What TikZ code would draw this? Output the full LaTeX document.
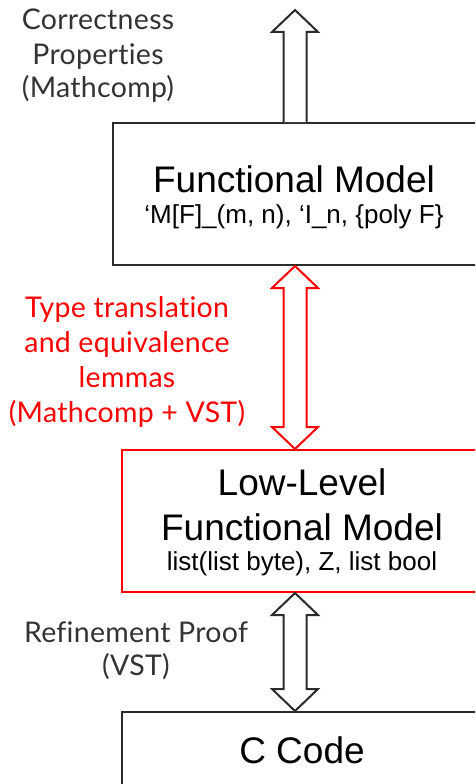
\documentclass[tikz,border=0pt]{standalone}
\usepackage{fontspec}
\setmainfont{Liberation Sans}
\newfontfamily\labelfont[Ligatures=NoCommon,LetterSpace=1]{Lato}
\usetikzlibrary{calc}
\definecolor{lblgray}{HTML}{333333}
\definecolor{linegray}{HTML}{2B2B2B}
\definecolor{myred}{HTML}{FF0000}
\tikzset{
  boxshape/.style={draw=linegray, line width=2pt, inner sep=0pt, fill=white},
  titletext/.style={font=\fontsize{37}{45}\selectfont, anchor=base, inner sep=0pt},
  subtext/.style={font=\fontsize{26}{30}\selectfont, anchor=base, inner sep=0pt},
  sidelbl/.style={font=\labelfont\fontsize{28.5}{35}\selectfont, text=lblgray, align=center, anchor=base, inner sep=0pt},
  blockarrow/.style={draw=linegray, line width=2pt, fill=white, line join=miter},
}
\begin{document}
\begin{tikzpicture}[x=1pt,y=-1pt]
\useasboundingbox (0,0) rectangle (475,784);
\clip (0,0) rectangle (475,784);
% boxes
\node[boxshape, minimum width=364pt, minimum height=142pt] (fm) at (295,194) {};
\node[boxshape, draw=myred, minimum width=360pt, minimum height=142pt] (llm) at (302,521) {};
\node[boxshape, minimum width=360pt, minimum height=120pt] (cc) at (302,772) {};
% box texts
\node[titletext] (fmt) at (294,192) {Functional Model};
\node[subtext] (fms) at (294,223) {‘M[F]\_(m, n), ‘I\_n, \{poly F\}};
\node[titletext] (llt1) at (302,495) {Low-Level};
\node[titletext] (llt2) at (302,540) {Functional Model};
\node[subtext] (lls) at (302,570) {list(list byte), Z, list bool};
\node[titletext] (cct) at (302,763) {C Code};
% side labels
\node[sidelbl] (corr) at (98,30) {Correctness};
\node[sidelbl] (prop) at (98,65) {Properties};
\node[sidelbl] (mc) at (98,97) {(Mathcomp)};
\node[sidelbl, text=myred] (tt1) at (127,317) {Type translation};
\node[sidelbl, text=myred] (tt2) at (127,352) {and equivalence};
\node[sidelbl, text=myred] (tt3) at (127,387) {lemmas};
\node[sidelbl, text=myred] (tt4) at (127,422) {(Mathcomp + VST)};
\node[sidelbl] (rp1) at (136,642) {Refinement Proof};
\node[sidelbl] (rp2) at (136,675) {(VST)};
% arrows
\coordinate (tipA) at (295,10);
\draw[blockarrow] ($(fm.north)+(-11.5,0)$) -- ($(fm.north)+(-11.5,-90)$) -- ($(fm.north)+(-23,-90)$) -- (tipA) -- ($(fm.north)+(23,-90)$) -- ($(fm.north)+(11.5,-90)$) -- ($(fm.north)+(11.5,0)$);
\coordinate (r1) at (fm.south);
\coordinate (r2) at (fm.south |- llm.north);
\draw[blockarrow, draw=myred] (r1) -- ($(r1)+(23,22)$) -- ($(r1)+(11.5,22)$) -- ($(r2)+(11.5,-22)$) -- ($(r2)+(23,-22)$) -- (r2) -- ($(r2)+(-23,-22)$) -- ($(r2)+(-11.5,-22)$) -- ($(r1)+(-11.5,22)$) -- ($(r1)+(-23,22)$) -- cycle;
\coordinate (b1) at (fm.south |- llm.south);
\coordinate (b2) at (fm.south |- cc.north);
\draw[blockarrow] (b1) -- ($(b1)+(23,22)$) -- ($(b1)+(11.5,22)$) -- ($(b2)+(11.5,-22)$) -- ($(b2)+(23,-22)$) -- (b2) -- ($(b2)+(-23,-22)$) -- ($(b2)+(-11.5,-22)$) -- ($(b1)+(-11.5,22)$) -- ($(b1)+(-23,22)$) -- cycle;
\end{tikzpicture}
\end{document}
